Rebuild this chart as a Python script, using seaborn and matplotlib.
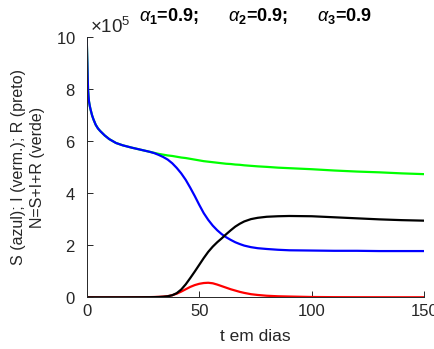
import numpy as np
import pandas as pd
import matplotlib
matplotlib.use("Agg")
import matplotlib.pyplot as plt
import seaborn as sns

# ---- data (in units of 1e5 persons) ----
t = [0, 0.15, 0.3, 0.45, 0.6, 0.8, 1, 1.4, 1.8, 2.4, 3, 4, 5, 6, 8, 10, 13, 16,
     20, 24, 28, 30, 32, 34, 36, 38, 40, 42, 44, 46, 48, 50, 52, 54, 56, 58,
     60, 62, 64, 66, 68, 70, 73, 76, 80, 85, 90, 100, 110, 120, 130, 140, 150]

S_e5 = [10, 9.5, 9.0, 8.45, 8.0, 7.75, 7.55, 7.35, 7.2, 7.0, 6.85, 6.64, 6.5,
        6.40, 6.23, 6.09, 5.94, 5.85, 5.76, 5.68, 5.60, 5.55, 5.48, 5.40, 5.30,
        5.16, 4.98, 4.77, 4.52, 4.22, 3.90, 3.56, 3.24, 2.98, 2.76, 2.58, 2.43,
        2.31, 2.21, 2.12, 2.05, 1.99, 1.93, 1.89, 1.86, 1.83, 1.81, 1.80, 1.79,
        1.79, 1.78, 1.78, 1.78]

I_e5 = [0, 0, 0, 0, 0, 0, 0, 0, 0, 0, 0, 0, 0, 0, 0, 0.001, 0.001, 0.002, 0.003,
        0.005, 0.008, 0.012, 0.018, 0.028, 0.045, 0.08, 0.14, 0.22, 0.31, 0.40,
        0.47, 0.52, 0.55, 0.56, 0.54, 0.49, 0.43, 0.37, 0.31, 0.26, 0.21, 0.17,
        0.12, 0.09, 0.06, 0.04, 0.03, 0.012, 0.006, 0.004, 0.003, 0.002, 0.002]

R_e5 = [0, 0, 0, 0, 0, 0, 0, 0, 0, 0, 0, 0, 0, 0, 0, 0, 0, 0, 0.001, 0.002,
        0.004, 0.007, 0.012, 0.022, 0.04, 0.08, 0.16, 0.30, 0.50, 0.74, 0.99,
        1.25, 1.51, 1.75, 1.95, 2.12, 2.27, 2.43, 2.58, 2.72, 2.83, 2.92, 3.01,
        3.06, 3.10, 3.12, 3.13, 3.12, 3.08, 3.04, 3.00, 2.97, 2.95]

N_e5 = [10, 9.5, 9.0, 8.45, 8.0, 7.75, 7.55, 7.35, 7.2, 7.0, 6.85, 6.64, 6.5,
        6.40, 6.23, 6.09, 5.94, 5.85, 5.76, 5.68, 5.60, 5.56, 5.52, 5.49, 5.46,
        5.44, 5.41, 5.38, 5.36, 5.33, 5.30, 5.27, 5.24, 5.22, 5.20, 5.18, 5.16,
        5.14, 5.13, 5.11, 5.10, 5.08, 5.06, 5.04, 5.02, 4.99, 4.97, 4.93, 4.88,
        4.84, 4.81, 4.77, 4.74]

x_ticks = [0, 50, 100, 150]
y_ticks = [0, 2e5, 4e5, 6e5, 8e5, 10e5]

df = pd.DataFrame({"t": t,
                   "S": np.array(S_e5) * 1e5,
                   "I": np.array(I_e5) * 1e5,
                   "R": np.array(R_e5) * 1e5,
                   "N": np.array(N_e5) * 1e5})

# ---- style ----
sns.set_theme(style="white")
plt.rcParams["font.family"] = ["Liberation Sans", "DejaVu Sans"]
plt.rcParams["mathtext.fontset"] = "custom"
plt.rcParams["mathtext.rm"] = "Liberation Sans"
plt.rcParams["mathtext.it"] = "Liberation Sans:italic"
plt.rcParams["mathtext.bf"] = "Liberation Sans:bold"
plt.rcParams["axes.unicode_minus"] = False
plt.rcParams["ytick.labelsize"] = 12
plt.rcParams["xtick.labelsize"] = 12

txt = "#262626"
fig = plt.figure(figsize=(4.35, 3.49), dpi=100)
ax = fig.add_axes([0.1993, 0.1481, 0.7761, 0.7445])

lw = 1.6
sns.lineplot(data=df, x="t", y="N", ax=ax, color=(0, 1, 0), lw=lw)
sns.lineplot(data=df, x="t", y="S", ax=ax, color=(0, 0, 1), lw=lw)
sns.lineplot(data=df, x="t", y="I", ax=ax, color=(1, 0, 0), lw=lw)
sns.lineplot(data=df, x="t", y="R", ax=ax, color=(0, 0, 0), lw=lw)

ax.set_xlim(0, 150)
ax.set_ylim(0, 10e5)
ax.set_xticks(x_ticks)
ax.set_yticks(y_ticks)
ax.ticklabel_format(axis="y", style="sci", scilimits=(5, 5), useMathText=True)

for side in ["top", "right"]:
    ax.spines[side].set_visible(False)
for side in ["left", "bottom"]:
    ax.spines[side].set_color(txt)
    ax.spines[side].set_linewidth(0.7)
ax.tick_params(direction="in", length=4, width=0.7, colors=txt,
               labelsize=12, labelcolor=txt, left=True, bottom=True)
ax.tick_params(axis="y", pad=8)
ax.tick_params(axis="x", pad=5)

ax.set_xlabel("t em dias", fontsize=12.5, color=txt, labelpad=7)
ax.set_ylabel("S (azul); I (verm.); R (preto)\nN=S+I+R (verde)",
              fontsize=11.5, color=txt, labelpad=8, linespacing=1.3)

ax.set_title(r"$\alpha_{\mathbf{1}}$=0.9;      $\alpha_{\mathbf{2}}$=0.9;      $\alpha_{\mathbf{3}}$=0.9",
             fontsize=13, fontweight="bold", color="black", x=0.5, pad=12)

off = ax.yaxis.get_offset_text()
off.set_fontsize(13.5)
off.set_color(txt)
off.set_x(0.01)

fig.savefig("out.png", dpi=100)
